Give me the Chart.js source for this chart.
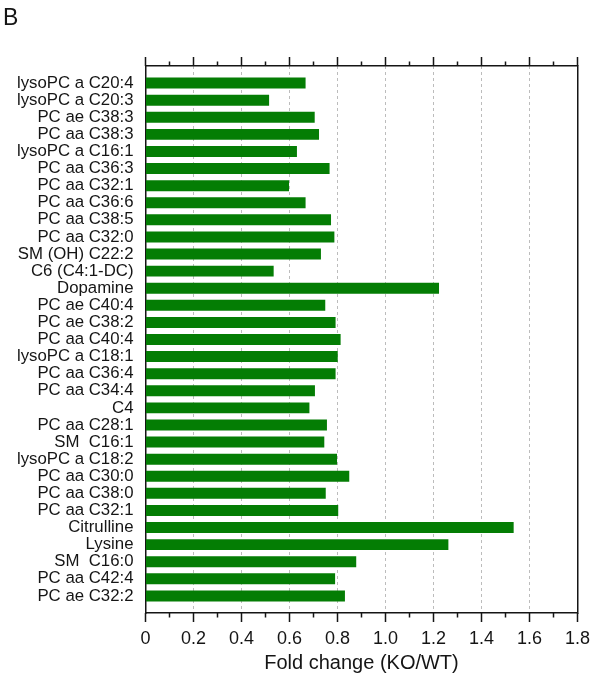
<!DOCTYPE html>
<html>
<head>
<meta charset="utf-8">
<script src="https://cdn.jsdelivr.net/npm/chart.js@4/dist/chart.umd.min.js"></script>
<style>
  html, body { margin: 0; padding: 0; background: #fff; }
  #wrap { width: 594px; height: 679px; position: relative; }
</style>
</head>
<body>
<div id="wrap"><canvas id="chart" width="594" height="679"></canvas></div>
<script>
// Metabolites, listed top to bottom
const categories = [
  'lysoPC a C20:4', 'lysoPC a C20:3', 'PC ae C38:3', 'PC aa C38:3', 'lysoPC a C16:1',
  'PC aa C36:3', 'PC aa C32:1', 'PC aa C36:6', 'PC aa C38:5', 'PC aa C32:0',
  'SM (OH) C22:2', 'C6 (C4:1-DC)', 'Dopamine', 'PC ae C40:4', 'PC ae C38:2',
  'PC aa C40:4', 'lysoPC a C18:1', 'PC aa C36:4', 'PC aa C34:4', 'C4',
  'PC aa C28:1', 'SM  C16:1', 'lysoPC a C18:2', 'PC aa C30:0', 'PC aa C38:0',
  'PC aa C32:1', 'Citrulline', 'Lysine', 'SM  C16:0', 'PC aa C42:4', 'PC ae C32:2'
];

// Fold change KO/WT for each metabolite
const foldChange = [
  0.667, 0.515, 0.705, 0.723, 0.631,
  0.767, 0.598, 0.667, 0.773, 0.787,
  0.731, 0.534, 1.223, 0.749, 0.792,
  0.813, 0.801, 0.792, 0.706, 0.683,
  0.756, 0.745, 0.798, 0.849, 0.751,
  0.803, 1.534, 1.262, 0.878, 0.790, 0.831
];

// Axis range and tick spacing
const xMin = 0, xMax = 1.8, xMajorStep = 0.2, xMinorStep = 0.1;
const xTitle = 'Fold change (KO/WT)';
const panelLetter = 'B';

const FONT = "'Liberation Sans', Arial, Helvetica, sans-serif";
const INK = '#151515';

// Outward tick marks on the top and bottom axes, plus the panel letter
const frameTicks = {
  id: 'frameTicks',
  afterDraw(chart) {
    const ctx = chart.ctx;
    const xs = chart.scales.x;
    const area = chart.chartArea;
    const n = Math.round((xMax - xMin) / xMinorStep);
    ctx.save();
    ctx.strokeStyle = INK;
    ctx.lineWidth = 1.5;
    for (let i = 0; i <= n; i++) {
      const v = xMin + i * xMinorStep;
      const px = xs.getPixelForValue(v);
      const len = (i % 2 === 0) ? 9 : 4.5;
      ctx.beginPath();
      ctx.moveTo(px, area.bottom);
      ctx.lineTo(px, area.bottom + len);
      ctx.moveTo(px, area.top);
      ctx.lineTo(px, area.top - len);
      ctx.stroke();
    }
    ctx.fillStyle = INK;
    ctx.font = '23px ' + FONT;
    ctx.textAlign = 'left';
    ctx.textBaseline = 'alphabetic';
    ctx.fillText(panelLetter, 3, 25);
    ctx.restore();
  }
};

const points = categories.map((c, i) => ({ x: foldChange[i], y: i }));

const noPadX = (s, h) => { s.height = h; s.paddingLeft = 0; s.paddingRight = 0; };
const noPadY = (s, w) => { s.width = w; s.paddingTop = 0; s.paddingBottom = 0; };

new Chart(document.getElementById('chart'), {
  type: 'bar',
  data: {
    datasets: [{
      data: points,
      backgroundColor: '#047d04',
      borderWidth: 0,
      barPercentage: 1.0,
      categoryPercentage: 0.64
    }]
  },
  options: {
    indexAxis: 'y',
    responsive: false,
    animation: false,
    layout: { padding: 0, autoPadding: false },
    plugins: {
      legend: { display: false },
      tooltip: { enabled: false },
      title: { display: false }
    },
    scales: {
      x: {
        type: 'linear',
        position: 'bottom',
        min: xMin,
        max: xMax,
        ticks: {
          stepSize: xMajorStep,
          color: INK,
          padding: 15,
          font: { family: FONT, size: 18 },
          callback: (v) => (Math.abs(v) < 1e-9 ? '0' : Number(v).toFixed(1))
        },
        grid: {
          drawTicks: false,
          lineWidth: 1,
          color: (ctx) => {
            const v = ctx.tick ? ctx.tick.value : 0;
            return (v > xMin + 1e-6 && v < xMax - 1e-6) ? '#bcbcbc' : 'rgba(0,0,0,0)';
          }
        },
        border: { display: true, color: INK, width: 1.5, dash: [3, 3] },
        title: {
          display: true,
          text: xTitle,
          color: INK,
          font: { family: FONT, size: 20 },
          padding: { top: 4, bottom: 4 }
        },
        afterFit: (s) => noPadX(s, 66)
      },
      x2: {
        type: 'linear',
        position: 'top',
        min: xMin,
        max: xMax,
        ticks: { display: false },
        grid: { display: false },
        border: { display: true, color: INK, width: 1.5 },
        afterFit: (s) => noPadX(s, 66)
      },
      y: {
        type: 'linear',
        position: 'left',
        reverse: true,
        offset: false,
        min: -1,
        max: categories.length,
        afterBuildTicks: (s) => {
          s.ticks = categories.map((c, i) => ({ value: i }));
        },
        ticks: {
          autoSkip: false,
          color: INK,
          padding: 12,
          font: { family: FONT, size: 16.8 },
          callback: (v) => (Number.isInteger(v) && categories[v] !== undefined ? categories[v] : '')
        },
        grid: { display: false, drawTicks: false, offset: false },
        border: { display: true, color: INK, width: 1.5 },
        afterFit: (s) => noPadY(s, 145.5)
      },
      y2: {
        type: 'linear',
        position: 'right',
        offset: false,
        min: -1,
        max: categories.length,
        ticks: { display: false },
        grid: { display: false },
        border: { display: true, color: INK, width: 1.5 },
        afterFit: (s) => noPadY(s, 16.5)
      }
    }
  },
  plugins: [frameTicks]
});
</script>
</body>
</html>
